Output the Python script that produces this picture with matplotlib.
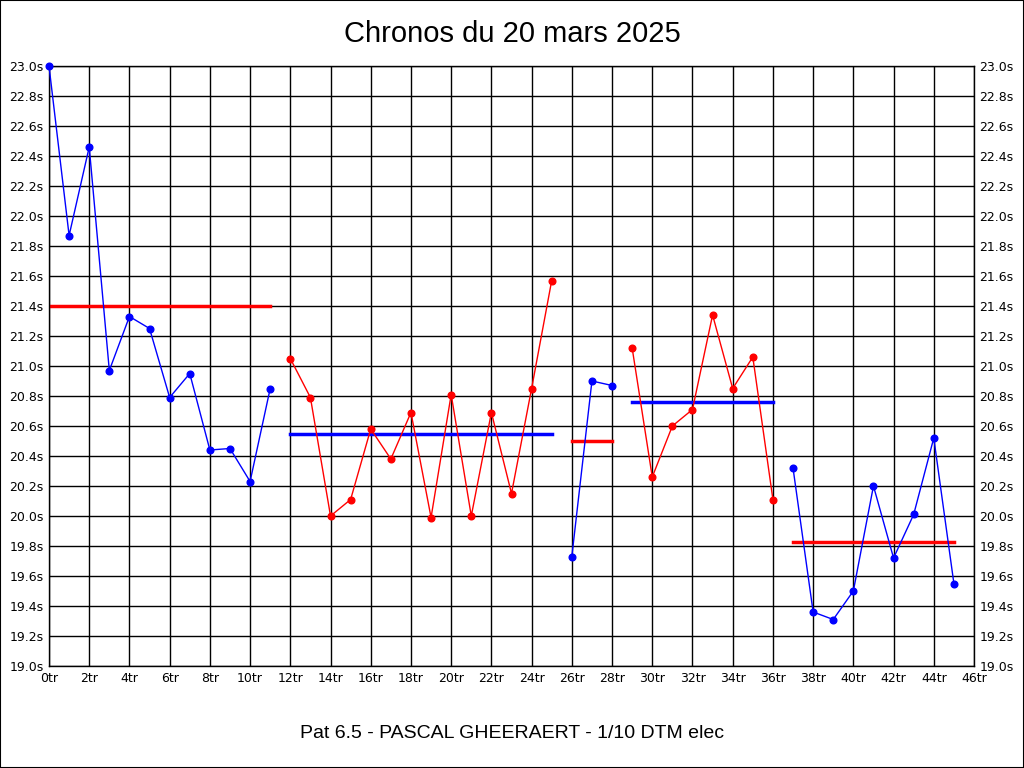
import matplotlib
matplotlib.use('Agg')
import matplotlib.pyplot as plt
from matplotlib.patches import Rectangle

# lap times per session (lap number, seconds)
laps_1 = list(range(0, 12))
times_1 = [23.00, 21.87, 22.46, 20.97, 21.33, 21.25, 20.79, 20.95, 20.44, 20.45, 20.23, 20.85]
laps_2 = list(range(12, 26))
times_2 = [21.05, 20.79, 20.00, 20.11, 20.58, 20.38, 20.69, 19.99, 20.81, 20.00, 20.69, 20.15, 20.85, 21.57]
laps_3 = list(range(26, 29))
times_3 = [19.73, 20.90, 20.87]
laps_4 = list(range(29, 37))
times_4 = [21.12, 20.26, 20.60, 20.71, 21.34, 20.85, 21.06, 20.11]
laps_5 = list(range(37, 46))
times_5 = [20.32, 19.36, 19.31, 19.50, 20.20, 19.72, 20.01, 20.52, 19.55]

averages = [21.40, 20.55, 20.50, 20.76, 19.83]

series = [(laps_1, times_1), (laps_2, times_2), (laps_3, times_3),
          (laps_4, times_4), (laps_5, times_5)]
line_colors = ['blue', 'red', 'blue', 'red', 'blue']
avg_colors = ['red', 'blue', 'red', 'blue', 'red']

x_ticks = list(range(0, 47, 2))
x_labels = ['%dtr' % t for t in x_ticks]
y_ticks = [19.0 + 0.2 * i for i in range(21)]
y_labels = ['%.1fs' % t for t in y_ticks]

fig = plt.figure(figsize=(10.24, 7.68), dpi=100)
fig.patches.append(Rectangle((0, 0), 1, 1, transform=fig.transFigure,
                             fill=False, edgecolor='black', linewidth=1.5))
ax = fig.add_axes([49/1024, 1 - 666/768, 925/1024, 600/768])

for (lx, ly), c, avg, ac in zip(series, line_colors, averages, avg_colors):
    ax.plot(lx, ly, color=c, linewidth=1, marker='o', markersize=4.8, zorder=3, clip_on=False)
    ax.plot([lx[0], lx[-1]], [avg, avg], color=ac, linewidth=2.5, zorder=2)

ax.set_xlim(0, 46)
ax.set_ylim(19.0, 23.0)
ax.set_xticks(x_ticks)
ax.set_xticklabels(x_labels)
ax.set_yticks(y_ticks)
ax.set_yticklabels(y_labels)
ax.grid(True, color='black', linewidth=1)
ax.tick_params(axis='both', length=0, labelsize=9, pad=4)
ax.tick_params(axis='y', labelright=True)
for s in ax.spines.values():
    s.set_color('black')
    s.set_linewidth(1)

fig.text(0.5, 1 - 34/768, 'Chronos du 20 mars 2025', ha='center', va='center',
         fontsize=21, family='Liberation Sans')
fig.text(0.5, 1 - 733/768, 'Pat 6.5 - PASCAL GHEERAERT - 1/10 DTM elec', ha='center',
         va='center', fontsize=14, family='Liberation Sans')

fig.savefig('out.png', dpi=100)
